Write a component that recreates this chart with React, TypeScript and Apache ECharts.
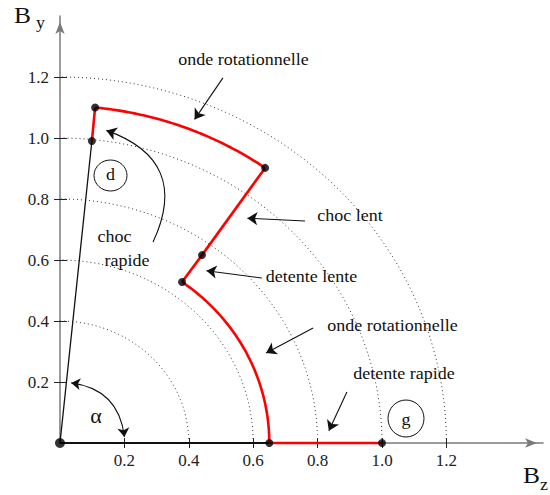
import React, { useEffect, useRef } from "react";
import * as echarts from "echarts";

// Field states in the (Bz, By) plane, in order along the transition
const stateBz = [0.099, 0.109, 0.637, 0.441, 0.379, 0.65, 1.0];
const stateBy = [0.99, 1.1, 0.902, 0.616, 0.528, 0, 0];

// How consecutive states are joined: 0 = straight jump, 1 = rotation at constant |B|
const segmentIsArc = [0, 1, 0, 0, 1, 0];

// Reference circles |B| = const
const circleRadii = [0.4, 0.6, 0.8, 1.0, 1.2];

// Tick positions on both axes
const tickValues = [0.2, 0.4, 0.6, 0.8, 1.0, 1.2];

// Annotation arrows (tail -> head) in field units, with their bend
const arrowTail = [
  [0.506, 1.197],
  [0.761, 0.728],
  [0.627, 0.541],
  [0.786, 0.377],
  [0.891, 0.167],
  [0.289, 0.659],
];
const arrowHead = [
  [0.418, 1.061],
  [0.582, 0.737],
  [0.455, 0.565],
  [0.64, 0.295],
  [0.835, 0.04],
  [0.144, 1.025],
];
const arrowBend = [0, 0, 0, 0, 0, -0.55];

// Angle marker alpha between the Bz axis and the upstream field
const alphaEnds = [
  [0.2, 0.02],
  [0.035, 0.197],
];

const SERIF = "Liberation Serif";
const INK = "#111";

export default function App() {
  const ref = useRef<HTMLDivElement>(null);

  useEffect(() => {
    if (!ref.current) return;
    const chart = echarts.init(ref.current, undefined, { renderer: "svg" });

    const segments = segmentIsArc.map((arc, i) => [
      stateBz[i],
      stateBy[i],
      stateBz[i + 1],
      stateBy[i + 1],
      arc,
    ]);

    const text = (
      s: string,
      x: number,
      y: number,
      size = 17,
      sx = 1.06
    ) => ({
      type: "text",
      x,
      y,
      scaleX: sx,
      z: 50,
      style: {
        text: s,
        fill: INK,
        fontFamily: SERIF,
        fontSize: size,
        align: "center",
        verticalAlign: "middle",
        textAlign: "center",
        textVerticalAlign: "middle",
      },
    });

    const axisCommon = {
      type: "value",
      splitLine: { show: false },
    };

    chart.setOption({
      animation: false,
      textStyle: { fontFamily: SERIF },
      grid: { left: 60, right: 7, top: 16, bottom: 52, containLabel: false },
      xAxis: [
        {
          ...axisCommon,
          min: 0,
          max: 1.5,
          position: "bottom",
          axisLine: {
            show: true,
            lineStyle: { color: "#7a7a7a", width: 1.5 },
            symbol: ["none", "arrow"],
            symbolSize: [7, 12],
            symbolOffset: [0, -6],
          },
          axisTick: {
            show: true,
            length: 5,
            customValues: tickValues,
            lineStyle: { color: "#222", width: 1 },
          },
          axisLabel: {
            customValues: tickValues,
            formatter: (v: number) => v.toFixed(1),
            fontFamily: SERIF,
            fontSize: 17,
            color: "#222",
            margin: 9,
          },
        },
        {
          ...axisCommon,
          min: 0,
          max: 1.5,
          position: "bottom",
          axisLine: { show: false },
          axisTick: {
            show: true,
            inside: true,
            length: 5,
            customValues: tickValues,
            lineStyle: { color: "#222", width: 1 },
          },
          axisLabel: { show: false },
        },
      ],
      yAxis: [
        {
          ...axisCommon,
          min: 0,
          max: 1.4,
          position: "left",
          axisLine: {
            show: true,
            lineStyle: { color: "#7a7a7a", width: 1.5 },
            symbol: ["none", "arrow"],
            symbolSize: [7, 12],
            symbolOffset: [0, -6],
          },
          axisTick: {
            show: true,
            length: 6,
            customValues: tickValues,
            lineStyle: { color: "#222", width: 1 },
          },
          axisLabel: {
            customValues: tickValues,
            formatter: (v: number) => v.toFixed(1),
            fontFamily: SERIF,
            fontSize: 17,
            color: "#222",
            margin: 11,
          },
        },
        {
          ...axisCommon,
          min: 0,
          max: 1.4,
          position: "left",
          axisLine: { show: false },
          axisTick: {
            show: true,
            inside: true,
            length: 7,
            customValues: tickValues,
            lineStyle: { color: "#222", width: 1 },
          },
          axisLabel: { show: false },
        },
      ],
      series: [
        {
          // dotted circles of constant field magnitude
          type: "custom",
          name: "circles",
          silent: true,
          clip: false,
          z: 1,
          data: circleRadii.map((r) => [r, r]),
          encode: { x: 0, y: 1 },
          renderItem: (_p: any, api: any) => {
            const r = api.value(0);
            const pts: number[][] = [];
            const n = 90;
            for (let k = 0; k <= n; k++) {
              const t = (Math.PI / 2) * (k / n);
              pts.push(api.coord([r * Math.cos(t), r * Math.sin(t)]));
            }
            return {
              type: "polyline",
              shape: { points: pts },
              style: { stroke: "#333", lineWidth: 1, fill: "none", lineDash: [1, 3] },
            };
          },
        },
        {
          // upstream field and its projection on the Bz axis
          type: "line",
          silent: true,
          z: 3,
          symbol: "none",
          lineStyle: { color: INK, width: 1.3 },
          data: [
            [0, 0],
            [stateBz[0], stateBy[0]],
          ],
        },
        {
          type: "line",
          silent: true,
          z: 3,
          symbol: "none",
          lineStyle: { color: INK, width: 2 },
          data: [
            [0, 0],
            [stateBz[5], stateBy[5]],
          ],
        },
        {
          // transition path: jumps and rotations
          type: "custom",
          name: "path",
          silent: true,
          clip: false,
          z: 4,
          dimensions: ["x1", "y1", "x2", "y2", "arc"],
          encode: { x: [0, 2], y: [1, 3] },
          data: segments,
          renderItem: (_p: any, api: any) => {
            const x1 = api.value(0);
            const y1 = api.value(1);
            const x2 = api.value(2);
            const y2 = api.value(3);
            const arc = api.value(4);
            let pts: number[][];
            if (arc) {
              const r1 = Math.hypot(x1, y1);
              const r2 = Math.hypot(x2, y2);
              const t1 = Math.atan2(y1, x1);
              const t2 = Math.atan2(y2, x2);
              const n = 60;
              pts = [];
              for (let k = 0; k <= n; k++) {
                const f = k / n;
                const r = r1 + (r2 - r1) * f;
                const t = t1 + (t2 - t1) * f;
                pts.push(api.coord([r * Math.cos(t), r * Math.sin(t)]));
              }
            } else {
              pts = [api.coord([x1, y1]), api.coord([x2, y2])];
            }
            return {
              type: "polyline",
              shape: { points: pts },
              style: { stroke: "#ff0000", lineWidth: 2.6, fill: "none", lineJoin: "round" },
            };
          },
        },
        {
          // annotation arrows
          type: "lines",
          coordinateSystem: "cartesian2d",
          silent: true,
          z: 5,
          symbol: ["none", "arrow"],
          symbolSize: 10,
          lineStyle: { color: INK, width: 1.1, opacity: 1 },
          data: arrowTail.map((t, i) => ({
            coords: [t, arrowHead[i]],
            lineStyle: { curveness: arrowBend[i] },
          })),
        },
        {
          // angle marker
          type: "lines",
          coordinateSystem: "cartesian2d",
          silent: true,
          z: 5,
          symbol: ["arrow", "arrow"],
          symbolSize: 9,
          lineStyle: { color: INK, width: 1.1, opacity: 1 },
          data: [{ coords: alphaEnds, lineStyle: { curveness: -0.39 } }],
        },
        {
          // field states
          type: "scatter",
          silent: true,
          z: 6,
          symbol: "circle",
          itemStyle: { color: "#000" },
          symbolSize: (v: number[]) => (v[0] === 0 && v[1] === 0 ? 10 : 8),
          data: [[0, 0], ...stateBz.map((x, i) => [x, stateBy[i]])],
        },
      ],
      graphic: [
        text("B", 22.5, 15, 24, 1.06),
        text("y", 40.5, 22.3, 17),
        text("B", 531.5, 475, 24, 1.06),
        text("z", 544, 484, 17),
        text("onde rotationnelle", 243.5, 59.3),
        text("choc lent", 350, 215.3),
        text("detente lente", 311.5, 276.3),
        text("onde rotationnelle", 392.5, 325.3),
        text("detente rapide", 404, 373.3),
        text("choc", 114.5, 236.3),
        text("rapide", 127, 260.3),
        text("d", 110.5, 174.3),
        text("g", 406, 419.3),
        text("α", 96, 415.6, 22, 1.0),
        {
          type: "ellipse",
          shape: { cx: 110.5, cy: 175.5, rx: 16.5, ry: 15.5 },
          style: { fill: "none", stroke: INK, lineWidth: 1 },
          z: 50,
        },
        {
          type: "ellipse",
          shape: { cx: 406, cy: 418.5, rx: 18, ry: 18.5 },
          style: { fill: "none", stroke: INK, lineWidth: 1 },
          z: 50,
        },
      ],
    });

    return () => chart.dispose();
  }, []);

  return (
    <div
      ref={ref}
      style={{ position: "absolute", left: 0, top: 0, width: 550, height: 495, background: "#fff" }}
    />
  );
}
